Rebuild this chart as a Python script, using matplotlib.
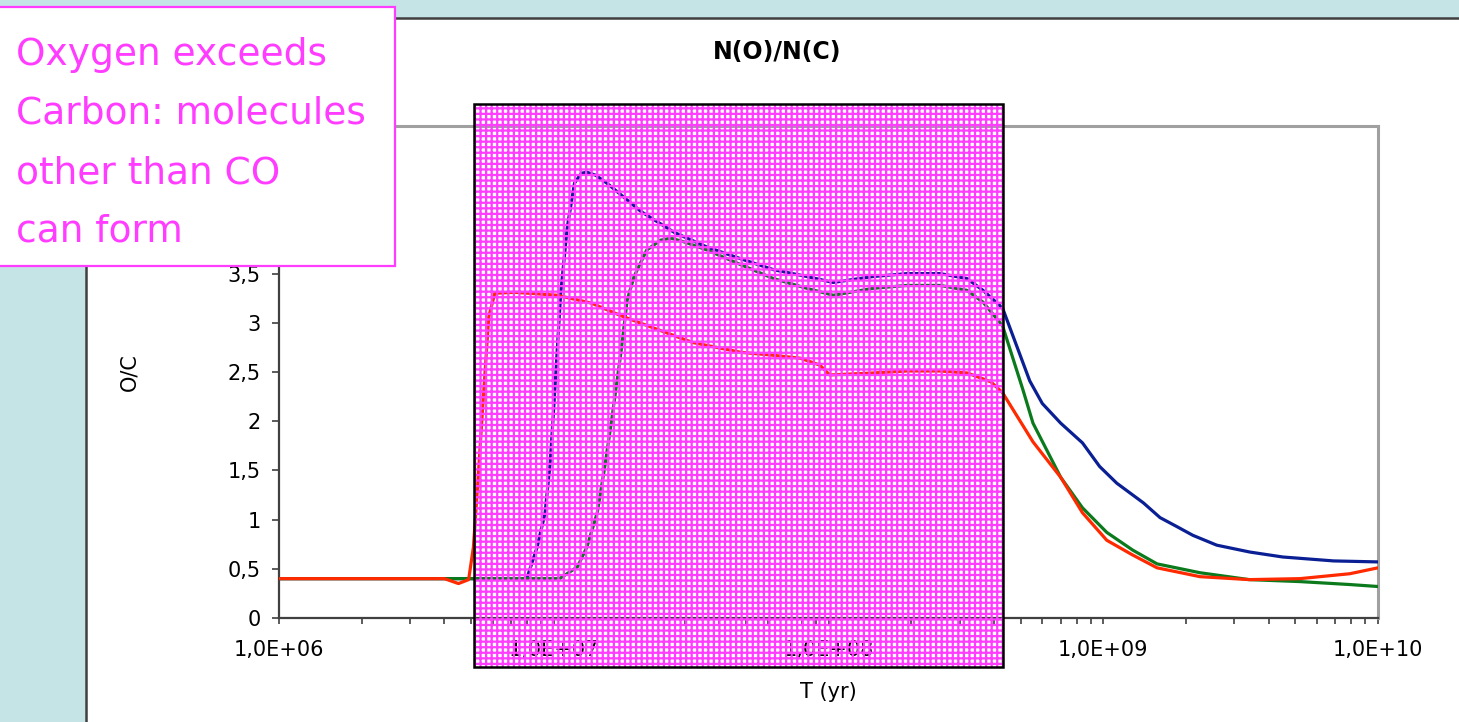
import numpy as np
import matplotlib
matplotlib.use("Agg")
import matplotlib.pyplot as plt
from matplotlib.patches import Rectangle
from matplotlib.lines import Line2D
from matplotlib.ticker import FuncFormatter, LogLocator

# --------------------------
# Data
# --------------------------
t_red = [1e6, 4.0e6, 4.5e6, 4.9e6, 5.1e6, 5.3e6, 5.5e6, 5.8e6, 6.1e6, 7.2e6,
         1.03e7, 1.37e7, 1.8e7, 2.4e7, 3.2e7, 4.8e7, 6.3e7, 7.9e7, 9.3e7, 1.01e8,
         1.45e8, 1.93e8, 2.55e8, 3.2e8, 3.9e8, 4.3e8, 5.55e8, 7.0e8, 8.4e8, 1.03e9,
         1.28e9, 1.57e9, 2.25e9, 3.4e9, 5.2e9, 7.9e9, 1e10]
oc_red = [0.40, 0.40, 0.35, 0.39, 0.72, 1.40, 2.10, 3.06, 3.30, 3.31,
          3.28, 3.20, 3.06, 2.93, 2.80, 2.70, 2.67, 2.64, 2.57, 2.47,
          2.49, 2.51, 2.51, 2.49, 2.40, 2.29, 1.79, 1.43, 1.07, 0.79,
          0.64, 0.51, 0.42, 0.39, 0.40, 0.45, 0.51]

t_blue = [1e6, 5.0e6, 7.5e6, 8.0e6, 8.7e6, 9.3e6, 9.7e6, 9.95e6, 1.06e7, 1.12e7,
          1.19e7, 1.26e7, 1.32e7, 1.42e7, 1.56e7, 2.08e7, 2.74e7, 3.61e7, 4.8e7, 6.3e7,
          8.35e7, 1.04e8, 1.45e8, 1.93e8, 2.55e8, 3.19e8, 3.65e8, 4.3e8, 5.4e8, 6.0e8,
          7.0e8, 8.4e8, 9.7e8, 1.12e9, 1.40e9, 1.61e9, 1.85e9, 2.12e9, 2.59e9, 3.42e9,
          4.5e9, 6.9e9, 1e10]
oc_blue = [0.40, 0.40, 0.39, 0.41, 0.72, 1.07, 1.57, 2.04, 3.30, 3.97,
           4.42, 4.52, 4.53, 4.50, 4.42, 4.13, 3.92, 3.77, 3.65, 3.54,
           3.47, 3.41, 3.47, 3.50, 3.50, 3.45, 3.33, 3.15, 2.41, 2.18,
           1.98, 1.78, 1.54, 1.37, 1.17, 1.02, 0.93, 0.84, 0.74, 0.67,
           0.62, 0.58, 0.57]

t_green = [1e6, 1.05e7, 1.22e7, 1.32e7, 1.44e7, 1.54e7, 1.63e7, 1.76e7, 1.85e7, 1.96e7,
           2.18e7, 2.45e7, 2.67e7, 3.0e7, 3.61e7, 4.8e7, 6.3e7, 8.35e7, 1.04e8, 1.45e8,
           1.93e8, 2.55e8, 3.19e8, 3.65e8, 4.3e8, 5.1e8, 5.55e8, 7.0e8, 8.4e8, 1.03e9,
           1.28e9, 1.57e9, 2.25e9, 3.4e9, 5.2e9, 7.9e9, 1e10]
oc_green = [0.40, 0.40, 0.52, 0.72, 1.07, 1.57, 2.04, 2.72, 3.23, 3.47,
            3.74, 3.84, 3.86, 3.82, 3.74, 3.59, 3.45, 3.35, 3.28, 3.35,
            3.38, 3.38, 3.33, 3.21, 2.97, 2.32, 1.98, 1.43, 1.12, 0.87,
            0.69, 0.55, 0.46, 0.39, 0.37, 0.34, 0.32]

y_ticks = [0, 0.5, 1, 1.5, 2, 2.5, 3, 3.5, 4, 4.5, 5]
note_lines = ["Oxygen exceeds", "Carbon: molecules", "other than CO", "can form"]

# --------------------------
# Figure
# --------------------------
W, H = 1459, 722
BG = "#c4e4e6"
PINK = "#ff3cff"


def fx(px):
    return px / W


def fy(py):
    return 1 - py / H


def y_fmt(v, p):
    # labels above 3,5 sit under the note box in the original
    if v > 3.5:
        return ""
    return f"{v:g}".replace(".", ",")


plt.rcParams["font.family"] = ["DejaVu Sans"]
plt.rcParams["hatch.linewidth"] = 1.6

fig = plt.figure(figsize=(W / 100, H / 100), dpi=100, facecolor=BG)

# white slide panel with dark left/top border
fig.add_artist(Rectangle((fx(86), 0), 1 - fx(86), fy(18),
                         transform=fig.transFigure, facecolor="white",
                         edgecolor="none", zorder=-2))
fig.add_artist(Line2D([fx(86), fx(86)], [0, fy(18)], transform=fig.transFigure,
                      color="#404040", lw=1.8, zorder=-1))
fig.add_artist(Line2D([fx(86), 1], [fy(18), fy(18)], transform=fig.transFigure,
                      color="#404040", lw=1.8, zorder=-1))

ax = fig.add_axes([fx(279), fy(618), fx(1378) - fx(279), fy(126) - fy(618)])
ax.set_facecolor("white")

ax.plot(t_blue, oc_blue, color="#0a1f94", lw=2.3, zorder=3)
ax.plot(t_green, oc_green, color="#0b7a1c", lw=2.3, zorder=3)
ax.plot(t_red, oc_red, color="#ff2a00", lw=2.3, zorder=3)

ax.set_xscale("log")
ax.set_xlim(1e6, 1e10)
ax.set_ylim(0, 5)
ax.set_yticks(y_ticks)
ax.xaxis.set_major_locator(LogLocator(base=10, numticks=10))
ax.xaxis.set_minor_locator(LogLocator(base=10, subs=np.arange(2, 10), numticks=20))
ax.xaxis.set_major_formatter(FuncFormatter(lambda v, p: f"{v:.1E}".replace(".", ",")))
ax.xaxis.set_minor_formatter(FuncFormatter(lambda v, p: ""))
ax.yaxis.set_major_formatter(FuncFormatter(y_fmt))

for side in ["left", "bottom"]:
    ax.spines[side].set_color("#404040")
    ax.spines[side].set_linewidth(1.6)
for side in ["top", "right"]:
    ax.spines[side].set_color("#a0a0a0")
    ax.spines[side].set_linewidth(2.2)

ax.tick_params(axis="x", which="both", direction="out", length=4.5, width=1.2,
               color="#404040", labelsize=15, pad=11)
ax.tick_params(axis="y", which="major", direction="out", length=5, width=1.2,
               color="#404040", labelsize=15, pad=8)

ax.set_xlabel("T (yr)", fontsize=15, labelpad=16)
ax.set_ylabel("O/C", fontsize=15, labelpad=64)

fig.text(fx(777), fy(59), "N(O)/N(C)", fontsize=17, fontweight="bold",
         ha="center", va="baseline")

# --------------------------
# Overlay: hatched pink box
# --------------------------
fig.add_artist(Rectangle((fx(474), fy(667)), fx(1003) - fx(474), fy(104) - fy(667),
                         transform=fig.transFigure, facecolor="none",
                         edgecolor=PINK, hatch="+++", lw=0, zorder=5))
fig.add_artist(Rectangle((fx(474), fy(667)), fx(1003) - fx(474), fy(104) - fy(667),
                         transform=fig.transFigure, facecolor="none",
                         edgecolor="black", lw=1.8, zorder=6))

# --------------------------
# Overlay: note box
# --------------------------
fig.add_artist(Rectangle((fx(-5), fy(266)), fx(400), fy(7) - fy(266),
                         transform=fig.transFigure, facecolor="white",
                         edgecolor=PINK, lw=1.6, zorder=7))
for i, line in enumerate(note_lines):
    fig.text(fx(16), fy(65 + 59 * i), line, fontsize=27, color=PINK,
             ha="left", va="baseline", zorder=8)

fig.savefig("out.png", dpi=100, facecolor=BG)
